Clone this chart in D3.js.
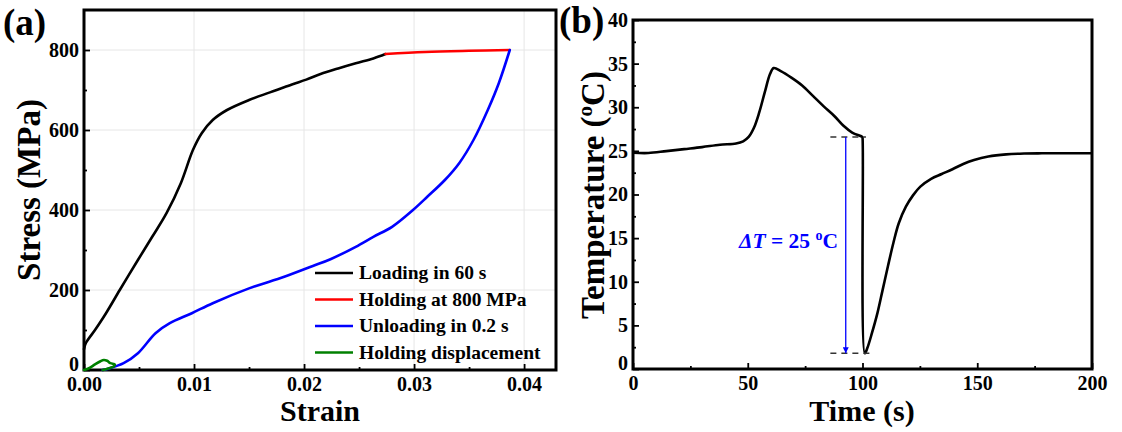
<!DOCTYPE html>
<html>
<head>
<meta charset="utf-8">
<script src="https://cdn.jsdelivr.net/npm/d3@7"></script>
<style>
  html, body { margin: 0; padding: 0; background: #fff; }
  svg { display: block; }
  text { font-family: "Liberation Serif", "Times New Roman", serif; font-weight: bold; }
</style>
</head>
<body>
<svg id="fig" width="1122" height="432"></svg>
<script>
// ---- (a) stress-strain cycle ----
const loadStrain = [0, 0.00016, 0.001, 0.002, 0.00325, 0.0049, 0.0062, 0.0075, 0.0088, 0.0099, 0.0107, 0.0117, 0.013, 0.015, 0.0169, 0.0189, 0.0202, 0.0215, 0.0231, 0.0247, 0.0263, 0.0274];
const loadStress = [52, 67, 100, 142, 200, 275, 333, 392, 467, 550, 592, 625, 650, 675, 694, 714, 726, 740, 754, 767, 779, 790];

const holdStrain = [0.0274, 0.031, 0.035, 0.0387];
const holdStress = [790, 795, 798, 800];

const unloadStrain = [0.0387, 0.0377, 0.0367, 0.0354, 0.0341, 0.0328, 0.0312, 0.0299, 0.028, 0.0263, 0.0247, 0.0224, 0.0208, 0.0182, 0.015, 0.0117, 0.0098, 0.0078, 0.0065, 0.0049, 0.0036, 0.0023, 0.0017];
const unloadStress = [800, 717, 650, 575, 517, 475, 433, 400, 358, 333, 308, 277, 260, 233, 204, 167, 142, 117, 92, 42, 17, 4, 0];

const dispStrain = [0, 0.0005, 0.001, 0.0015, 0.0018, 0.0021, 0.0024, 0.0028, 0.0027, 0.0022, 0.0017];
const dispStress = [0, 5, 14, 22, 25, 23, 17, 14, 9, 4, 0];

const strainTicks = [0, 0.01, 0.02, 0.03, 0.04];
const strainMinor = [0.005, 0.015, 0.025, 0.035];
const stressTicks = [0, 200, 400, 600, 800];
const stressMinor = [100, 300, 500, 700];

const legendNames = ["Loading in 60 s", "Holding at 800 MPa", "Unloading in 0.2 s", "Holding displacement"];
const legendColors = ["#000000", "#ff0000", "#0000ff", "#008000"];

// ---- (b) temperature history ----
const time = [0, 6.7, 14.5, 22.3, 30.1, 37.9, 44.9, 48, 50.4, 52.7, 55, 57.4, 59.7, 61.3, 64.4, 69, 73.7, 78.4, 83.1, 87.7, 91.6, 95.5, 99.9, 100, 101, 102.1, 104.1, 106.5, 108.8, 111.1, 113.5, 115.8, 118.9, 122, 125.2, 129.9, 134.5, 139.2, 143.9, 148.6, 154.8, 162.6, 170.4, 178.2, 186, 200];
const temperature = [24.78, 24.75, 24.97, 25.2, 25.43, 25.7, 25.85, 26.1, 26.6, 27.65, 29.4, 31.7, 33.8, 34.5, 34.15, 33.4, 32.5, 31.3, 30.1, 29.0, 27.9, 27.1, 26.6, 26.55, 1.8, 2.4, 4.1, 6.4, 9.1, 11.8, 14.5, 16.7, 18.6, 19.9, 20.9, 21.8, 22.35, 22.9, 23.5, 23.95, 24.35, 24.6, 24.7, 24.72, 24.72, 24.72];

const timeTicks = [0, 50, 100, 150, 200];
const timeMinor = [25, 75, 125, 175];
const tempTicks = [0, 5, 10, 15, 20, 25, 30, 35, 40];
const tempMinor = [2.5, 7.5, 12.5, 17.5, 22.5, 27.5, 32.5, 37.5];

// temperature drop marker: start/end levels and time span of the guide lines
const dropHigh = 26.6, dropLow = 1.8, arrowTime = 92.7;
const guideTop = [86, 101.5], guideBottom = [86, 105];

const svg = d3.select("#fig");
const tickFont = 20;

function frameAxes(g, x, y, xt, xm, yt, ym, fmtX, fmtY, grid) {
  const [x0, x1] = x.range();
  const [y0, y1] = y.range();
  if (grid) {
    g.append("g").selectAll("line").data(xt.filter(d => d !== x.domain()[0])).join("line")
      .attr("x1", d => x(d)).attr("x2", d => x(d)).attr("y1", y0).attr("y2", y1)
      .attr("stroke", "#e6e6e6").attr("stroke-width", 1);
    g.append("g").selectAll("line").data(yt.filter(d => d !== y.domain()[0])).join("line")
      .attr("x1", x0).attr("x2", x1).attr("y1", d => y(d)).attr("y2", d => y(d))
      .attr("stroke", "#e6e6e6").attr("stroke-width", 1);
  }
  const ax = g.append("g").attr("transform", `translate(0,${y0})`)
    .call(d3.axisBottom(x).tickValues(xt).tickSize(-6).tickPadding(7).tickFormat(fmtX));
  const axm = g.append("g").attr("transform", `translate(0,${y0})`)
    .call(d3.axisBottom(x).tickValues(xm).tickSize(-3).tickFormat(""));
  const ay = g.append("g").attr("transform", `translate(${x0},0)`)
    .call(d3.axisLeft(y).tickValues(yt).tickSize(-6).tickPadding(5).tickFormat(fmtY));
  const aym = g.append("g").attr("transform", `translate(${x0},0)`)
    .call(d3.axisLeft(y).tickValues(ym).tickSize(-3).tickFormat(""));
  [ax, axm, ay, aym].forEach(a => {
    a.select(".domain").remove();
    a.selectAll(".tick line").attr("stroke", "#000").attr("stroke-width", 1.8);
    a.selectAll("text").attr("fill", "#000").style("font-size", tickFont + "px")
      .style("font-family", '"Liberation Serif", serif').style("font-weight", "bold");
  });
  // lift the lowest y label so it clears the first x label
  ay.selectAll(".tick").filter(d => d === y.domain()[0]).select("text").attr("dy", "0em");
  g.append("rect").attr("x", x0).attr("y", y1).attr("width", x1 - x0).attr("height", y0 - y1)
    .attr("fill", "none").attr("stroke", "#000").attr("stroke-width", 3);
}

// ===== panel (a) =====
const xa = d3.scaleLinear().domain([0, 0.0429]).range([84, 556]);
const ya = d3.scaleLinear().domain([0, 900]).range([370, 10]);
const ga = svg.append("g");
frameAxes(ga, xa, ya, strainTicks, strainMinor, stressTicks, stressMinor, d3.format(".2f"), d3.format("d"), true);

const lineA = d3.line().x(d => xa(d[0])).y(d => ya(d[1])).curve(d3.curveCatmullRom.alpha(0.5));
const seriesA = [
  [loadStrain, loadStress],
  [holdStrain, holdStress],
  [unloadStrain, unloadStress],
  [dispStrain, dispStress]
];
seriesA.forEach(([xs, ys], i) => {
  ga.append("path").datum(xs.map((v, k) => [v, ys[k]]))
    .attr("d", lineA).attr("fill", "none").attr("stroke", legendColors[i])
    .attr("stroke-width", 2.6).attr("stroke-linejoin", "round").attr("stroke-linecap", "round");
});

// legend
const leg = ga.append("g");
legendNames.forEach((name, i) => {
  const yy = 273 + i * 26.5;
  leg.append("line").attr("x1", 315).attr("x2", 353).attr("y1", yy).attr("y2", yy)
    .attr("stroke", legendColors[i]).attr("stroke-width", 2.6);
  leg.append("text").attr("x", 359).attr("y", yy).attr("dy", "0.33em")
    .style("font-size", "19.5px").text(name);
});

// axis titles
ga.append("text").attr("x", 320).attr("y", 421).attr("text-anchor", "middle")
  .style("font-size", "30px").text("Strain");
ga.append("text").attr("transform", "translate(40,190) rotate(-90)").attr("text-anchor", "middle")
  .style("font-size", "33px").text("Stress (MPa)");
ga.append("text").attr("x", 3).attr("y", 35).style("font-size", "37px").text("(a)");

// ===== panel (b) =====
const xb = d3.scaleLinear().domain([0, 200]).range([633, 1092]);
const yb = d3.scaleLinear().domain([0, 40]).range([369, 20]);
const gb = svg.append("g");
frameAxes(gb, xb, yb, timeTicks, timeMinor, tempTicks, tempMinor, d3.format("d"), d3.format("d"), false);

const lineB = d3.line().x(d => xb(d[0])).y(d => yb(d[1])).curve(d3.curveCatmullRom.alpha(0.5));
gb.append("path").datum(time.map((t, k) => [t, temperature[k]]))
  .attr("d", lineB).attr("fill", "none").attr("stroke", "#000")
  .attr("stroke-width", 2.6).attr("stroke-linejoin", "round");

// guide lines for the temperature drop
[[guideTop, dropHigh], [guideBottom, dropLow]].forEach(([span, lvl]) => {
  gb.append("line").attr("x1", xb(span[0])).attr("x2", xb(span[1]))
    .attr("y1", yb(lvl)).attr("y2", yb(lvl))
    .attr("stroke", "#333").attr("stroke-width", 1.5).attr("stroke-dasharray", "6,5");
});

// arrow
const defs = svg.append("defs");
defs.append("marker").attr("id", "arrowHead").attr("viewBox", "0 0 10 10")
  .attr("refX", 10).attr("refY", 5).attr("markerWidth", 12).attr("markerHeight", 6)
  .attr("markerUnits", "userSpaceOnUse").attr("orient", "auto")
  .append("path").attr("d", "M0,0 L10,5 L0,10 Z").attr("fill", "#0000ff");
gb.append("line").attr("x1", xb(arrowTime)).attr("x2", xb(arrowTime))
  .attr("y1", yb(dropHigh)).attr("y2", yb(dropLow))
  .attr("stroke", "#0000ff").attr("stroke-width", 1.3).attr("marker-end", "url(#arrowHead)");

const dt = gb.append("text").attr("x", 838).attr("y", 248).attr("text-anchor", "end")
  .style("font-size", "21.5px").attr("fill", "#0000ff");
dt.append("tspan").style("font-style", "italic").text("\u0394T");
dt.append("tspan").text(" = " + (Math.round(dropHigh - dropLow)) + " ");
dt.append("tspan").attr("dy", -8).style("font-size", "14px").text("o");
dt.append("tspan").attr("dy", 8).text("C");

gb.append("text").attr("x", 862).attr("y", 421).attr("text-anchor", "middle")
  .style("font-size", "30px").text("Time (s)");
const ty = gb.append("text").attr("transform", "translate(604,195) rotate(-90)").attr("text-anchor", "middle")
  .style("font-size", "33px");
ty.append("tspan").text("Temperature (");
ty.append("tspan").attr("dy", -12).style("font-size", "21px").text("o");
ty.append("tspan").attr("dy", 12).text("C)");
gb.append("text").attr("x", 559).attr("y", 33).style("font-size", "37px").text("(b)");
</script>
</body>
</html>
